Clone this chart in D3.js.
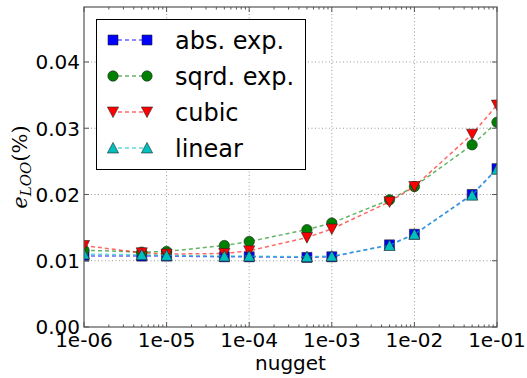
<!DOCTYPE html>
<html>
<head>
<meta charset="utf-8">
<script src="https://cdn.jsdelivr.net/npm/d3@7"></script>
<style>
  html, body { margin: 0; padding: 0; background: #fff; }
  svg { display: block; font-family: "DejaVu Sans", sans-serif; }
</style>
</head>
<body>
<svg id="chart" width="527" height="378"></svg>
<script>
// Leave-one-out error against nugget value, per covariance kernel
const nuggets = [1e-6, 5e-6, 1e-5, 5e-5, 1e-4, 5e-4, 1e-3, 5e-3, 1e-2, 5e-2, 1e-1];
const absExp  = [0.0107, 0.0107, 0.0107, 0.0106, 0.0106, 0.0105, 0.0106, 0.0124, 0.0140, 0.0200, 0.0239];
const sqrdExp = [0.0116, 0.0113, 0.0114, 0.0123, 0.0129, 0.0147, 0.0157, 0.0192, 0.0212, 0.0275, 0.0309];
const cubic   = [0.0123, 0.0112, 0.0110, 0.0111, 0.0115, 0.0135, 0.0148, 0.0189, 0.0212, 0.0291, 0.0335];
const linear  = [0.0110, 0.0109, 0.0108, 0.0107, 0.0107, 0.0106, 0.0107, 0.0123, 0.0140, 0.0199, 0.0238];
const seriesNames = ["abs. exp.", "sqrd. exp.", "cubic", "linear"];
const seriesColors = ["#0000ff", "#008000", "#ff0000", "#00bfbf"];
const seriesMarkers = ["square", "circle", "triDown", "triUp"];
const xTicks = [1e-6, 1e-5, 1e-4, 1e-3, 1e-2, 1e-1];
const xTickLabels = ["1e-06", "1e-05", "1e-04", "1e-03", "1e-02", "1e-01"];
const yTicks = [0.00, 0.01, 0.02, 0.03, 0.04];
const yTickLabels = ["0.00", "0.01", "0.02", "0.03", "0.04"];

const seriesValues = [absExp, sqrdExp, cubic, linear];

const svg = d3.select("#chart");
const plot = { left: 84, right: 497, top: 7, bottom: 327 };

const x = d3.scaleLog().domain([1e-6, 1e-1]).range([plot.left, plot.right]);
const y = d3.scaleLinear().domain([0, 0.0483]).range([plot.bottom, plot.top]);

svg.append("defs").append("clipPath").attr("id", "plotclip")
  .append("rect")
  .attr("x", plot.left).attr("y", plot.top)
  .attr("width", plot.right - plot.left).attr("height", plot.bottom - plot.top);

// dotted grid at major ticks
const grid = svg.append("g").attr("stroke", "#9a9a9a").attr("stroke-width", 1)
  .attr("stroke-dasharray", "1,2.5");
xTicks.slice(1, -1).forEach(t => {
  grid.append("line").attr("x1", x(t)).attr("x2", x(t))
    .attr("y1", plot.top).attr("y2", plot.bottom);
});
yTicks.slice(1).forEach(t => {
  grid.append("line").attr("x1", plot.left).attr("x2", plot.right)
    .attr("y1", y(t)).attr("y2", y(t));
});

// marker shapes
function markerPath(kind) {
  const s = 5;
  if (kind === "square") return `M${-s},${-s}H${s}V${s}H${-s}Z`;
  if (kind === "circle") return d3.symbol().type(d3.symbolCircle).size(Math.PI * 5.2 * 5.2)();
  if (kind === "triDown") return `M${-5.6},${-5}L${5.6},${-5}L0,${5.6}Z`;
  return `M${-5.6},${5}L${5.6},${5}L0,${-5.6}Z`;
}

const data = seriesValues.map(vals => nuggets.map((n, i) => ({ n, v: vals[i] })));
const line = d3.line().x(d => x(d.n)).y(d => y(d.v));

const plotArea = svg.append("g").attr("clip-path", "url(#plotclip)");
data.forEach((pts, si) => {
  const g = plotArea.append("g");
  g.append("path").attr("d", line(pts))
    .attr("fill", "none")
    .attr("stroke", seriesColors[si])
    .attr("stroke-opacity", 0.6)
    .attr("stroke-width", 1.5)
    .attr("stroke-dasharray", "4,3");
  g.selectAll("path.mk").data(pts).join("path")
    .attr("class", "mk")
    .attr("d", markerPath(seriesMarkers[si]))
    .attr("transform", d => `translate(${x(d.n)},${y(d.v)})`)
    .attr("fill", seriesColors[si])
    .attr("stroke", "#222")
    .attr("stroke-width", 0.6);
});

// axes frame and inward ticks on all sides
const axes = svg.append("g").attr("stroke", "#555").attr("stroke-width", 1);
axes.append("rect")
  .attr("x", plot.left).attr("y", plot.top)
  .attr("width", plot.right - plot.left).attr("height", plot.bottom - plot.top)
  .attr("fill", "none").attr("stroke-width", 1.2);

const minorX = [];
for (let e = -6; e < -1 + 0; e++) {
  for (let m = 2; m <= 9; m++) minorX.push(m * Math.pow(10, e));
}
minorX.forEach(t => {
  axes.append("line").attr("x1", x(t)).attr("x2", x(t)).attr("y1", plot.bottom).attr("y2", plot.bottom - 2.5);
  axes.append("line").attr("x1", x(t)).attr("x2", x(t)).attr("y1", plot.top).attr("y2", plot.top + 2.5);
});
xTicks.forEach(t => {
  axes.append("line").attr("x1", x(t)).attr("x2", x(t)).attr("y1", plot.bottom).attr("y2", plot.bottom - 5);
  axes.append("line").attr("x1", x(t)).attr("x2", x(t)).attr("y1", plot.top).attr("y2", plot.top + 5);
});
yTicks.forEach(t => {
  axes.append("line").attr("x1", plot.left).attr("x2", plot.left + 5).attr("y1", y(t)).attr("y2", y(t));
  axes.append("line").attr("x1", plot.right).attr("x2", plot.right - 5).attr("y1", y(t)).attr("y2", y(t));
});

// tick labels
svg.append("g").selectAll("text").data(xTicks).join("text")
  .attr("x", d => x(d)).attr("y", 347)
  .attr("text-anchor", "middle")
  .attr("font-size", 20)
  .text((d, i) => xTickLabels[i]);
svg.append("g").selectAll("text").data(yTicks).join("text")
  .attr("x", 80).attr("y", d => y(d) + 7.3)
  .attr("text-anchor", "end")
  .attr("font-size", 20)
  .text((d, i) => yTickLabels[i]);

// axis titles
svg.append("text").attr("x", (plot.left + plot.right) / 2).attr("y", 370)
  .attr("text-anchor", "middle").attr("font-size", 20).text("nugget");

const yl = svg.append("text")
  .attr("transform", `translate(27,${(plot.top + plot.bottom) / 2}) rotate(-90)`)
  .attr("text-anchor", "middle")
  .attr("font-family", "'DejaVu Serif', serif")
  .attr("font-size", 21);
yl.append("tspan").attr("font-style", "italic").text("e");
yl.append("tspan").attr("font-style", "italic").attr("font-size", 15).attr("dy", 4).text("LOO");
yl.append("tspan").attr("dy", -4).text("(%)");

// legend
const legend = svg.append("g");
legend.append("rect").attr("x", 96.5).attr("y", 19.5).attr("width", 209).attr("height", 150)
  .attr("fill", "#fff").attr("stroke", "#000").attr("stroke-width", 1);
const rowY = [40, 76, 112, 148];
seriesNames.forEach((name, i) => {
  const g = legend.append("g").attr("transform", `translate(0,${rowY[i]})`);
  g.append("line").attr("x1", 113).attr("x2", 147).attr("y1", 0).attr("y2", 0)
    .attr("stroke", seriesColors[i]).attr("stroke-opacity", 0.6)
    .attr("stroke-width", 1.5).attr("stroke-dasharray", "4,3").attr("stroke-dashoffset", -5);
  [113, 147].forEach(mx => {
    g.append("path").attr("d", markerPath(seriesMarkers[i]))
      .attr("transform", `translate(${mx},0)`)
      .attr("fill", seriesColors[i]).attr("stroke", "#222").attr("stroke-width", 0.6);
  });
  g.append("text").attr("x", 175).attr("y", 8.5).attr("font-size", 24).text(name);
});
</script>
</body>
</html>
